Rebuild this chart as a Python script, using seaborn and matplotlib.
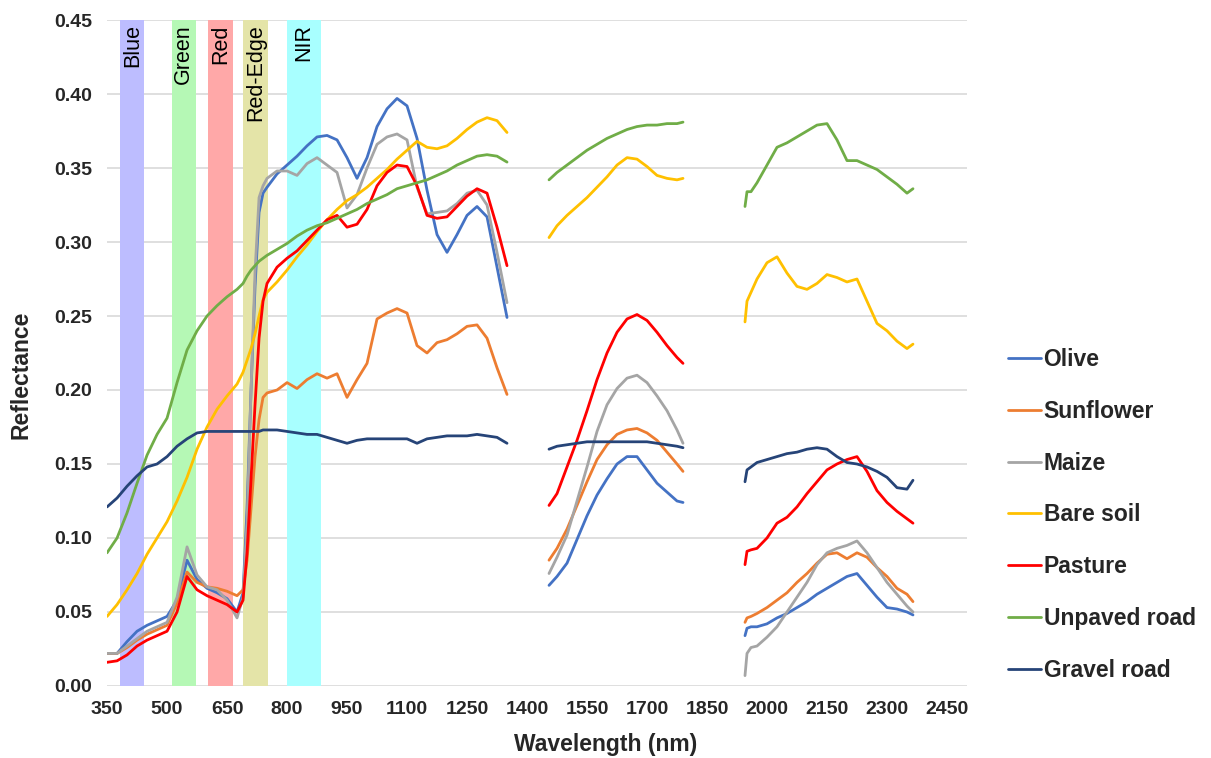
import numpy as np
import pandas as pd
import matplotlib
matplotlib.use('Agg')
import matplotlib.pyplot as plt
import seaborn as sns

# wavelength grids for the three measured segments (nm)
w1 = [350, 375, 400, 425, 450, 475, 500, 525, 550, 575, 600, 625, 650, 675, 690, 700, 710, 720,
      730, 740, 750, 775, 800, 825, 850, 875, 900, 925, 950, 975, 1000, 1025, 1050, 1075, 1100,
      1125, 1150, 1175, 1200, 1225, 1250, 1275, 1300, 1325, 1350]
w2 = [1455, 1475, 1500, 1525, 1550, 1575, 1600, 1625, 1650, 1675, 1700, 1725, 1750, 1775, 1790]
w3 = [1945, 1950, 1960, 1975, 2000, 2025, 2050, 2075, 2100, 2125, 2150, 2175, 2200, 2225, 2250,
      2275, 2300, 2325, 2350, 2365]

olive_1 = [0.022, 0.022, 0.030, 0.037, 0.041, 0.044, 0.047, 0.058, 0.085, 0.072, 0.066, 0.063, 0.059,
           0.050, 0.063, 0.120, 0.200, 0.270, 0.320, 0.333, 0.337, 0.346, 0.352, 0.358, 0.365, 0.371,
           0.372, 0.369, 0.357, 0.343, 0.357, 0.378, 0.390, 0.397, 0.392, 0.370, 0.335, 0.305, 0.293,
           0.305, 0.318, 0.324, 0.317, 0.283, 0.249]
olive_2 = [0.068, 0.074, 0.083, 0.099, 0.115, 0.129, 0.140, 0.150, 0.155, 0.155, 0.146, 0.137, 0.131,
           0.125, 0.124]
olive_3 = [0.034, 0.039, 0.040, 0.040, 0.042, 0.046, 0.049, 0.053, 0.057, 0.062, 0.066, 0.070, 0.074,
           0.076, 0.068, 0.060, 0.053, 0.052, 0.050, 0.048]

sunflower_1 = [0.022, 0.022, 0.026, 0.031, 0.035, 0.038, 0.041, 0.056, 0.077, 0.070, 0.067, 0.066,
               0.064, 0.061, 0.065, 0.085, 0.120, 0.155, 0.180, 0.195, 0.198, 0.200, 0.205, 0.201,
               0.207, 0.211, 0.208, 0.211, 0.195, 0.207, 0.218, 0.248, 0.252, 0.255, 0.252, 0.230,
               0.225, 0.232, 0.234, 0.238, 0.243, 0.244, 0.235, 0.215, 0.197]
sunflower_2 = [0.085, 0.093, 0.106, 0.122, 0.138, 0.153, 0.163, 0.170, 0.173, 0.174, 0.171, 0.166,
               0.158, 0.150, 0.145]
sunflower_3 = [0.043, 0.046, 0.047, 0.049, 0.053, 0.058, 0.063, 0.070, 0.076, 0.083, 0.089, 0.090,
               0.086, 0.090, 0.087, 0.080, 0.074, 0.066, 0.062, 0.057]

maize_1 = [0.022, 0.022, 0.027, 0.032, 0.037, 0.040, 0.043, 0.060, 0.094, 0.075, 0.067, 0.065, 0.058,
           0.046, 0.060, 0.110, 0.200, 0.280, 0.330, 0.338, 0.343, 0.348, 0.348, 0.345, 0.353, 0.357,
           0.352, 0.347, 0.323, 0.332, 0.350, 0.366, 0.371, 0.373, 0.369, 0.337, 0.319, 0.320, 0.321,
           0.326, 0.333, 0.335, 0.325, 0.293, 0.259]
maize_2 = [0.076, 0.087, 0.102, 0.125, 0.148, 0.172, 0.190, 0.201, 0.208, 0.210, 0.205, 0.196, 0.186,
           0.173, 0.164]
maize_3 = [0.007, 0.022, 0.026, 0.027, 0.033, 0.040, 0.050, 0.060, 0.070, 0.082, 0.090, 0.093, 0.095,
           0.098, 0.090, 0.080, 0.070, 0.062, 0.054, 0.050]

soil_1 = [0.047, 0.055, 0.065, 0.076, 0.089, 0.100, 0.111, 0.125, 0.141, 0.160, 0.175, 0.187, 0.196,
          0.204, 0.212, 0.220, 0.228, 0.238, 0.250, 0.261, 0.266, 0.273, 0.281, 0.290, 0.298, 0.307,
          0.315, 0.322, 0.328, 0.332, 0.337, 0.343, 0.349, 0.356, 0.362, 0.368, 0.364, 0.363, 0.365,
          0.370, 0.376, 0.381, 0.384, 0.382, 0.374]
soil_2 = [0.303, 0.311, 0.318, 0.324, 0.330, 0.337, 0.344, 0.352, 0.357, 0.356, 0.351, 0.345, 0.343,
          0.342, 0.343]
soil_3 = [0.246, 0.260, 0.266, 0.275, 0.286, 0.290, 0.279, 0.270, 0.268, 0.272, 0.278, 0.276, 0.273,
          0.275, 0.260, 0.245, 0.240, 0.233, 0.228, 0.231]

pasture_1 = [0.016, 0.017, 0.021, 0.027, 0.031, 0.034, 0.037, 0.050, 0.074, 0.065, 0.061, 0.058,
             0.055, 0.050, 0.058, 0.090, 0.140, 0.190, 0.235, 0.260, 0.272, 0.283, 0.289, 0.294,
             0.301, 0.308, 0.315, 0.318, 0.310, 0.312, 0.322, 0.338, 0.347, 0.352, 0.351, 0.338,
             0.318, 0.316, 0.317, 0.324, 0.331, 0.336, 0.333, 0.310, 0.284]
pasture_2 = [0.122, 0.130, 0.148, 0.166, 0.186, 0.207, 0.225, 0.239, 0.248, 0.251, 0.247, 0.239, 0.230,
             0.222, 0.218]
pasture_3 = [0.082, 0.091, 0.092, 0.093, 0.100, 0.110, 0.114, 0.121, 0.130, 0.138, 0.146, 0.150, 0.153,
             0.155, 0.145, 0.132, 0.124, 0.118, 0.113, 0.110]

unpaved_1 = [0.090, 0.100, 0.117, 0.137, 0.156, 0.170, 0.181, 0.205, 0.227, 0.240, 0.250, 0.257,
             0.263, 0.268, 0.272, 0.277, 0.281, 0.284, 0.287, 0.289, 0.291, 0.295, 0.299, 0.304,
             0.308, 0.311, 0.313, 0.316, 0.319, 0.322, 0.326, 0.329, 0.332, 0.336, 0.338, 0.340,
             0.342, 0.345, 0.348, 0.352, 0.355, 0.358, 0.359, 0.358, 0.354]
unpaved_2 = [0.342, 0.347, 0.352, 0.357, 0.362, 0.366, 0.370, 0.373, 0.376, 0.378, 0.379, 0.379, 0.380,
             0.380, 0.381]
unpaved_3 = [0.324, 0.334, 0.334, 0.340, 0.352, 0.364, 0.367, 0.371, 0.375, 0.379, 0.380, 0.369, 0.355,
             0.355, 0.352, 0.349, 0.344, 0.339, 0.333, 0.336]

gravel_1 = [0.121, 0.127, 0.135, 0.142, 0.148, 0.150, 0.155, 0.162, 0.167, 0.171, 0.172, 0.172, 0.172,
            0.172, 0.172, 0.172, 0.172, 0.172, 0.172, 0.173, 0.173, 0.173, 0.172, 0.171, 0.170, 0.170,
            0.168, 0.166, 0.164, 0.166, 0.167, 0.167, 0.167, 0.167, 0.167, 0.164, 0.167, 0.168, 0.169,
            0.169, 0.169, 0.170, 0.169, 0.168, 0.164]
gravel_2 = [0.160, 0.162, 0.163, 0.164, 0.165, 0.165, 0.165, 0.165, 0.165, 0.165, 0.165, 0.164, 0.163,
            0.162, 0.161]
gravel_3 = [0.138, 0.146, 0.148, 0.151, 0.153, 0.155, 0.157, 0.158, 0.160, 0.161, 0.160, 0.155, 0.151,
            0.150, 0.148, 0.145, 0.141, 0.134, 0.133, 0.139]

covers = ['Olive', 'Sunflower', 'Maize', 'Bare soil', 'Pasture', 'Unpaved road', 'Gravel road']
series = [(olive_1, olive_2, olive_3), (sunflower_1, sunflower_2, sunflower_3),
          (maize_1, maize_2, maize_3), (soil_1, soil_2, soil_3),
          (pasture_1, pasture_2, pasture_3), (unpaved_1, unpaved_2, unpaved_3),
          (gravel_1, gravel_2, gravel_3)]
colors = ['#4472C4', '#ED7D31', '#A5A5A5', '#FFC000', '#FF0000', '#70AD47', '#264478']

bands = ['Blue', 'Green', 'Red', 'Red-Edge', 'NIR']
band_lo = [383, 512, 603, 691, 799]
band_hi = [443, 572, 666, 753, 885]
band_colors = ['#BDBDFF', '#B5F8B5', '#FFA8A8', '#E4E4A8', '#A8FFFF']

rows = []
for name, segs in zip(covers, series):
    for k, (w, vals) in enumerate(zip([w1, w2, w3], segs)):
        for x, v in zip(w, vals):
            rows.append({'Wavelength': x, 'Reflectance': v, 'Cover': name, 'Segment': k})
df = pd.DataFrame(rows)

sns.set_theme(style='white')
plt.rcParams['font.family'] = ['Liberation Sans', 'DejaVu Sans']

fig = plt.figure(figsize=(12.11, 7.58), dpi=100)
ax = fig.add_axes([0.0884, 0.095, 0.7101, 0.8786])

for lo, hi, c, lab in zip(band_lo, band_hi, band_colors, bands):
    ax.axvspan(lo, hi, color=c, lw=0, zorder=1)
    ax.text((lo + hi) / 2, 0.447, lab, rotation=90, ha='center', va='top',
            fontsize=15.5, color='black', zorder=2)

sns.lineplot(data=df, x='Wavelength', y='Reflectance', hue='Cover', units='Segment',
             estimator=None, palette=dict(zip(covers, colors)), hue_order=covers,
             lw=2, ax=ax, zorder=3, legend=False)

ax.set_xlim(350, 2500)
ax.set_ylim(0, 0.45)
ax.set_xticks(np.arange(350, 2451, 150))
ax.set_yticks(np.arange(0, 0.451, 0.05))
ax.yaxis.set_major_formatter(plt.FormatStrFormatter('%.2f'))
ax.grid(axis='y', color='#D9D9D9', lw=1.2)
ax.set_axisbelow(True)
for s in ax.spines.values():
    s.set_visible(False)
ax.tick_params(axis='both', length=0, labelsize=14)
ax.tick_params(axis='x', pad=11)
ax.tick_params(axis='y', pad=11)
for t in ax.get_xticklabels() + ax.get_yticklabels():
    t.set_fontweight('bold')
    t.set_color('#262626')
ax.set_xlabel('')
ax.set_ylabel('')
fig.text(0.5, 0.003, 'Wavelength (nm)', ha='center', va='bottom', fontsize=16.5, fontweight='bold')
fig.text(0.017, 0.505, 'Reflectance', ha='center', va='center', rotation=90, fontsize=16.5,
         fontweight='bold')

handles = [plt.Line2D([], [], color=c, lw=2) for c in colors]
fig.legend(handles, covers, loc='center left', bbox_to_anchor=(0.832, 0.3206), frameon=False,
           borderpad=0, borderaxespad=0, handlelength=1.45, handletextpad=0.12, labelspacing=1.26,
           prop={'size': 16.5, 'weight': 'bold'})

fig.savefig('out.png', dpi=100)
